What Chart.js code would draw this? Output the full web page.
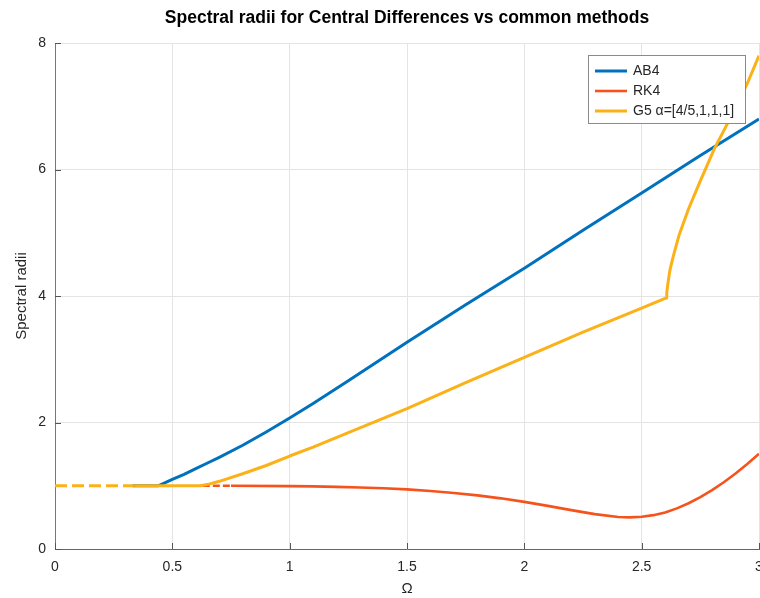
<!DOCTYPE html>
<html>
<head>
<meta charset="utf-8">
<script src="https://cdn.jsdelivr.net/npm/chart.js@4/dist/chart.umd.min.js"></script>
<style>
  html, body { margin: 0; padding: 0; background: #ffffff; }
  #wrap { width: 760px; height: 598px; }
</style>
</head>
<body>
<div id="wrap"><canvas id="c" width="760" height="598"></canvas></div>
<script>
// ---- data ----
const chartTitle = 'Spectral radii for Central Differences vs common methods';
const xTitle = 'Ω';
const yTitle = 'Spectral radii';
const seriesNames = ['AB4', 'RK4', 'G5 α=[4/5,1,1,1]'];

const omegaAB4  = [0.33, 0.44, 0.47, 0.5, 0.55, 0.6, 0.65, 0.7, 0.8, 0.9, 1.0, 1.1, 1.25, 1.5, 1.75, 2.0, 2.25, 2.5, 2.75, 3.0];
const radiusAB4 = [1.0, 1.0, 1.05, 1.1, 1.18, 1.27, 1.36, 1.45, 1.64, 1.85, 2.07, 2.3, 2.66, 3.27, 3.86, 4.44, 5.04, 5.63, 6.22, 6.8];

const omegaRK4  = [0.63, 0.75, 1.0, 1.1, 1.2, 1.3, 1.4, 1.5, 1.6, 1.7, 1.8, 1.9, 2.0, 2.1, 2.2, 2.3, 2.4, 2.45, 2.5, 2.55, 2.6, 2.65, 2.7, 2.75, 2.8, 2.85, 2.9, 2.95, 3.0];
const radiusRK4 = [1.0, 0.999, 0.994, 0.99, 0.983, 0.973, 0.96, 0.942, 0.917, 0.886, 0.848, 0.801, 0.745, 0.682, 0.615, 0.551, 0.507, 0.5, 0.509, 0.535, 0.578, 0.642, 0.723, 0.82, 0.931, 1.055, 1.193, 1.343, 1.505];

const omegaG5  = [0, 0.34, 0.62, 0.66, 0.7, 0.8, 0.9, 1.0, 1.1, 1.25, 1.5, 1.75, 2.0, 2.25, 2.5, 2.605, 2.607, 2.61, 2.615, 2.62, 2.63, 2.64, 2.66, 2.7, 2.75, 2.81, 2.89, 2.95, 3.0];
const radiusG5 = [1.0, 1.0, 1.0, 1.03, 1.07, 1.19, 1.32, 1.47, 1.61, 1.84, 2.22, 2.63, 3.03, 3.43, 3.81, 3.97, 4.05, 4.15, 4.28, 4.4, 4.56, 4.7, 4.97, 5.38, 5.82, 6.33, 6.9, 7.36, 7.8];

const xTicks = [0, 0.5, 1, 1.5, 2, 2.5, 3];
const yTicks = [0, 2, 4, 6, 8];

const colors = ['#0072BD', '#F6531C', '#FBB117'];

// ---- build chart ----
function pts(xs, ys) { return xs.map((x, i) => ({ x: x, y: ys[i] })); }

const FONT = "'Liberation Sans', Arial, Helvetica, sans-serif";
const TEXT = '#262626';

const legendPlugin = {
  id: 'boxLegend',
  afterDatasetsDraw(chart) {
    const { ctx, chartArea } = chart;
    const w = 158, h = 69;
    const x0 = chartArea.right - 13 - w;
    const y0 = chartArea.top + 12;
    ctx.save();
    ctx.fillStyle = '#ffffff';
    ctx.fillRect(x0, y0, w, h);
    ctx.strokeStyle = '#8a8a8a';
    ctx.lineWidth = 1;
    ctx.strokeRect(x0 + 0.5, y0 + 0.5, w - 1, h - 1);
    ctx.font = '14px ' + FONT;
    ctx.textBaseline = 'middle';
    ctx.textAlign = 'left';
    chart.data.datasets.forEach((ds, i) => {
      const yy = y0 + 16 + i * 20;
      ctx.strokeStyle = ds.borderColor;
      ctx.lineWidth = ds.borderWidth;
      ctx.beginPath();
      ctx.moveTo(x0 + 7, yy);
      ctx.lineTo(x0 + 39, yy);
      ctx.stroke();
      ctx.fillStyle = TEXT;
      ctx.fillText(ds.label, x0 + 45, yy);
    });
    ctx.restore();
  }
};

const tickMarkPlugin = {
  id: 'innerTicks',
  afterDraw(chart) {
    const { ctx, chartArea, scales } = chart;
    ctx.save();
    ctx.strokeStyle = '#555555';
    ctx.lineWidth = 1;
    ctx.beginPath();
    xTicks.forEach(v => {
      const px = Math.round(scales.x.getPixelForValue(v)) + 0.5;
      ctx.moveTo(px, chartArea.bottom);
      ctx.lineTo(px, chartArea.bottom - 6);
    });
    yTicks.forEach(v => {
      const py = Math.round(scales.y.getPixelForValue(v)) + 0.5;
      ctx.moveTo(chartArea.left, py);
      ctx.lineTo(chartArea.left + 6, py);
    });
    ctx.stroke();
    ctx.restore();
  }
};

new Chart(document.getElementById('c'), {
  type: 'line',
  data: {
    datasets: [
      {
        label: seriesNames[0],
        data: pts(omegaAB4, radiusAB4),
        borderColor: colors[0],
        borderWidth: 3,
        order: 2
      },
      {
        label: seriesNames[1],
        data: pts(omegaRK4, radiusRK4),
        borderColor: colors[1],
        borderWidth: 2.6,
        order: 1,
        segment: { borderDash: c => (c.p1.parsed.x <= 0.75 ? [7, 3] : undefined) }
      },
      {
        label: seriesNames[2],
        data: pts(omegaG5, radiusG5),
        borderColor: colors[2],
        borderWidth: 3,
        order: 0,
        segment: { borderDash: c => (c.p1.parsed.x <= 0.34 ? [12, 5] : undefined) }
      }
    ]
  },
  options: {
    responsive: false,
    animation: false,
    devicePixelRatio: 1,
    layout: { padding: { left: 0, right: 1, top: 0, bottom: 0 } },
    elements: {
      point: { radius: 0, hoverRadius: 0 },
      line: { tension: 0, fill: false, borderCapStyle: 'butt', borderJoinStyle: 'round' }
    },
    plugins: {
      legend: { display: false },
      tooltip: { enabled: false },
      title: {
        display: true,
        text: chartTitle,
        fullSize: false,
        color: '#000000',
        font: { family: FONT, size: 17.5, weight: 'bold', lineHeight: 1.2 },
        padding: { top: 8, bottom: 14 }
      }
    },
    scales: {
      x: {
        type: 'linear',
        min: 0,
        max: 3,
        afterBuildTicks: s => { s.ticks = xTicks.map(v => ({ value: v })); },
        afterFit: s => { s.height = 49; s.paddingRight = 0; s.paddingLeft = 0; },
        ticks: {
          color: TEXT,
          padding: 10,
          maxRotation: 0,
          font: { family: FONT, size: 14 },
          callback: v => String(v)
        },
        grid: { color: '#e4e4e4', drawTicks: false, lineWidth: 1 },
        border: { color: '#666666', width: 1 },
        title: {
          display: true,
          text: xTitle,
          color: TEXT,
          font: { family: FONT, size: 15 },
          padding: { top: 0, bottom: 0 }
        }
      },
      y: {
        type: 'linear',
        min: 0,
        max: 8,
        afterBuildTicks: s => { s.ticks = yTicks.map(v => ({ value: v })); },
        afterFit: s => { s.width = 55; },
        ticks: {
          color: TEXT,
          padding: 9,
          font: { family: FONT, size: 14 },
          callback: v => String(v)
        },
        grid: { color: '#e4e4e4', drawTicks: false, lineWidth: 1 },
        border: { color: '#777777', width: 1 },
        title: {
          display: true,
          text: yTitle,
          color: TEXT,
          font: { family: FONT, size: 15 },
          padding: { top: 13, bottom: 0 }
        }
      }
    }
  },
  plugins: [legendPlugin, tickMarkPlugin]
});
</script>
</body>
</html>
